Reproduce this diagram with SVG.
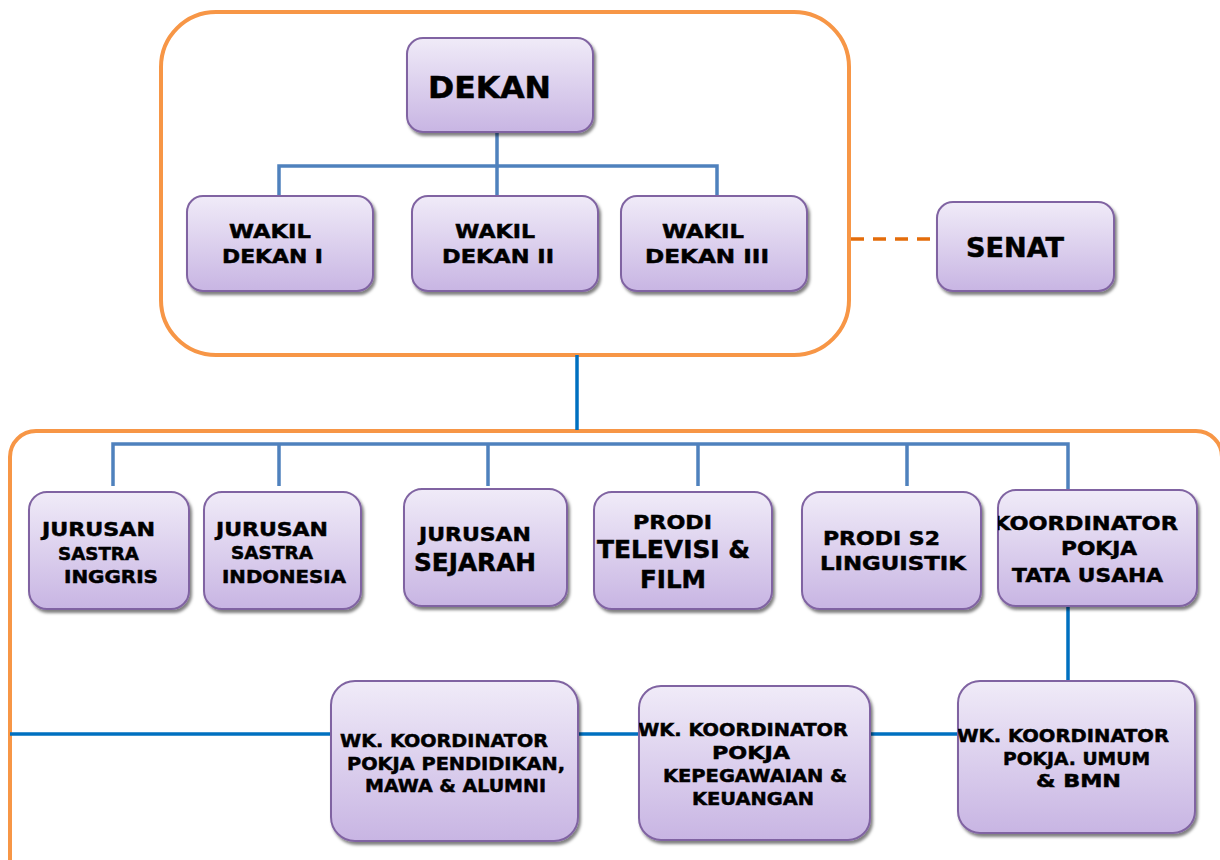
<svg xmlns="http://www.w3.org/2000/svg" width="1220" height="860" viewBox="0 0 1220 860">
<defs>
<linearGradient id="g" x1="0" y1="0" x2="0" y2="1">
<stop offset="0" stop-color="#F0EBF8"/>
<stop offset="1" stop-color="#C8B5E3"/>
</linearGradient>
<filter id="sh" x="-10%" y="-10%" width="125%" height="130%">
<feDropShadow dx="2" dy="3" stdDeviation="1.5" flood-color="#000" flood-opacity="0.5"/>
</filter>
<clipPath id="cKT"><rect x="998" y="490" width="199" height="116" rx="18"/></clipPath>
<clipPath id="cKP"><rect x="639" y="686" width="231" height="154" rx="22"/></clipPath>
<clipPath id="cUM"><rect x="958" y="681" width="237" height="152" rx="22"/></clipPath>
</defs>
<style>
.box{fill:url(#g);stroke:#8064A2;stroke-width:2;filter:url(#sh)}
.cont{fill:none;stroke:#F79646;stroke-width:4}
.ln{fill:none;stroke:#4F81BD;stroke-width:3.5}
.ln2{fill:none;stroke:#0070C0;stroke-width:3.5}
.dash{fill:none;stroke:#E46C0A;stroke-width:3.5;stroke-dasharray:13 9}
text{font-family:"DejaVu Sans","Verdana",sans-serif;font-weight:bold;fill:#000;stroke:#000;stroke-width:0.5}
.t20{font-size:20px}
.t17{font-size:18px}
.t24{font-size:25px}
</style>
<rect width="1220" height="860" fill="#fff"/>
<g id="containers">
<rect class="cont" x="161" y="12" width="688" height="343" rx="55"/>
<rect class="cont" x="10" y="431" width="1212" height="470" rx="26"/>
</g>
<g id="connectors">
<path class="ln" d="M497 132V200M279 196V166H717V196"/>
<path class="ln2" d="M577 355V430"/>
<path class="ln" d="M113 486V444H1068V490M279 444V486M488 444V486M698 444V486M907 444V486"/>
<path class="ln2" d="M1068 606V681M10 734H958"/>
<path class="dash" d="M851 239H937"/>
</g>
<g id="dekan">
<rect class="box" x="407" y="38" width="186" height="94" rx="16"/>
<text x="428" y="98" font-size="31" textLength="123" lengthAdjust="spacingAndGlyphs">DEKAN</text>
</g>
<g id="wd1">
<rect class="box" x="187" y="196" width="186" height="95" rx="16"/>
<text class="t20" x="229" y="238" textLength="82" lengthAdjust="spacingAndGlyphs">WAKIL</text>
<text class="t20" x="222" y="263" textLength="101" lengthAdjust="spacingAndGlyphs">DEKAN I</text>
</g>
<g id="wd2">
<rect class="box" x="412" y="196" width="186" height="95" rx="16"/>
<text class="t20" x="455" y="238" textLength="80" lengthAdjust="spacingAndGlyphs">WAKIL</text>
<text class="t20" x="442" y="263" textLength="112" lengthAdjust="spacingAndGlyphs">DEKAN II</text>
</g>
<g id="wd3">
<rect class="box" x="621" y="196" width="186" height="95" rx="16"/>
<text class="t20" x="662" y="238" textLength="82" lengthAdjust="spacingAndGlyphs">WAKIL</text>
<text class="t20" x="645" y="263" textLength="124" lengthAdjust="spacingAndGlyphs">DEKAN III</text>
</g>
<g id="senat">
<rect class="box" x="937" y="202" width="177" height="89" rx="16"/>
<text x="966" y="257" font-size="27" textLength="98" lengthAdjust="spacingAndGlyphs">SENAT</text>
</g>
<g id="inggris">
<rect class="box" x="29" y="492" width="160" height="117" rx="18"/>
<text class="t20" x="42" y="536" textLength="113" lengthAdjust="spacingAndGlyphs">JURUSAN</text>
<text class="t17" x="58" y="560" textLength="81" lengthAdjust="spacingAndGlyphs">SASTRA</text>
<text class="t17" x="64" y="583" textLength="94" lengthAdjust="spacingAndGlyphs">INGGRIS</text>
</g>
<g id="indonesia">
<rect class="box" x="204" y="492" width="157" height="117" rx="18"/>
<text class="t20" x="216" y="536" textLength="112" lengthAdjust="spacingAndGlyphs">JURUSAN</text>
<text class="t17" x="231" y="559" textLength="82" lengthAdjust="spacingAndGlyphs">SASTRA</text>
<text class="t17" x="222" y="583" textLength="124" lengthAdjust="spacingAndGlyphs">INDONESIA</text>
</g>
<g id="sejarah">
<rect class="box" x="404" y="489" width="163" height="117" rx="18"/>
<text class="t20" x="419" y="541" textLength="112" lengthAdjust="spacingAndGlyphs">JURUSAN</text>
<text class="t24" x="414" y="571" textLength="122" lengthAdjust="spacingAndGlyphs">SEJARAH</text>
</g>
<g id="televisi">
<rect class="box" x="594" y="492" width="178" height="117" rx="18"/>
<text class="t20" x="633" y="529" textLength="79" lengthAdjust="spacingAndGlyphs">PRODI</text>
<text class="t24" x="597" y="558" textLength="153" lengthAdjust="spacingAndGlyphs">TELEVISI &amp;</text>
<text class="t24" x="640" y="588" textLength="66" lengthAdjust="spacingAndGlyphs">FILM</text>
</g>
<g id="linguistik">
<rect class="box" x="802" y="492" width="179" height="117" rx="18"/>
<text class="t20" x="823" y="545" textLength="117" lengthAdjust="spacingAndGlyphs">PRODI S2</text>
<text class="t20" x="820" y="570" textLength="146" lengthAdjust="spacingAndGlyphs">LINGUISTIK</text>
</g>
<g id="tatausaha">
<rect class="box" x="998" y="490" width="199" height="116" rx="18"/>
<g clip-path="url(#cKT)">
<text class="t20" x="993" y="530" textLength="185" lengthAdjust="spacingAndGlyphs">KOORDINATOR</text>
</g>
<text class="t20" x="1061" y="555" textLength="76" lengthAdjust="spacingAndGlyphs">POKJA</text>
<text class="t20" x="1012" y="582" textLength="151" lengthAdjust="spacingAndGlyphs">TATA USAHA</text>
</g>
<g id="pendidikan">
<rect class="box" x="331" y="681" width="247" height="160" rx="24"/>
<text class="t17" x="340" y="747" textLength="208" lengthAdjust="spacingAndGlyphs">WK. KOORDINATOR</text>
<text class="t17" x="347" y="770" textLength="218" lengthAdjust="spacingAndGlyphs">POKJA PENDIDIKAN,</text>
<text class="t17" x="365" y="792" textLength="181" lengthAdjust="spacingAndGlyphs">MAWA &amp; ALUMNI</text>
</g>
<g id="kepegawaian">
<rect class="box" x="639" y="686" width="231" height="154" rx="22"/>
<g clip-path="url(#cKP)">
<text class="t17" x="638" y="736" textLength="210" lengthAdjust="spacingAndGlyphs">WK. KOORDINATOR</text>
</g>
<text class="t17" x="712" y="759" textLength="78" lengthAdjust="spacingAndGlyphs">POKJA</text>
<text class="t17" x="663" y="782" textLength="184" lengthAdjust="spacingAndGlyphs">KEPEGAWAIAN &amp;</text>
<text class="t17" x="692" y="805" textLength="122" lengthAdjust="spacingAndGlyphs">KEUANGAN</text>
</g>
<g id="umum">
<rect class="box" x="958" y="681" width="237" height="152" rx="22"/>
<g clip-path="url(#cUM)">
<text class="t17" x="957" y="742" textLength="212" lengthAdjust="spacingAndGlyphs">WK. KOORDINATOR</text>
</g>
<text class="t17" x="1003" y="765" textLength="147" lengthAdjust="spacingAndGlyphs">POKJA. UMUM</text>
<text class="t17" x="1036" y="787" textLength="85" lengthAdjust="spacingAndGlyphs">&amp; BMN</text>
</g>
</svg>
